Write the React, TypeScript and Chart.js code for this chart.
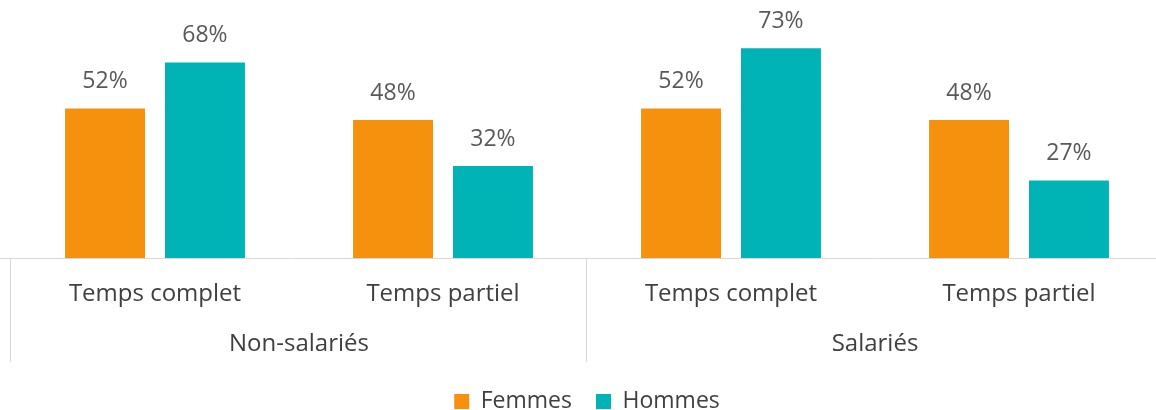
import React, { useEffect, useRef } from "react";
import { Chart, registerables } from "chart.js";

Chart.register(...registerables);

const categories = ["Temps complet", "Temps partiel", "Temps complet", "Temps partiel"];
const groups = ["Non-salariés", "Salariés"];
const femmes = [52, 48, 52, 48];
const hommes = [68, 32, 73, 27];
const seriesNames = ["Femmes", "Hommes"];

const ORANGE = "#F6910D";
const TEAL = "#00B3B4";
const FONT = "'Open Sans', 'Noto Sans', sans-serif";

const overlayPlugin = {
  id: "overlay",
  afterDatasetsDraw(chart: any) {
    const ctx = chart.ctx;
    ctx.save();
    ctx.font = `23px ${FONT}`;
    ctx.fillStyle = "#595959";
    ctx.textAlign = "center";
    ctx.textBaseline = "middle";
    chart.data.datasets.forEach((ds: any, di: number) => {
      const meta = chart.getDatasetMeta(di);
      meta.data.forEach((bar: any, i: number) => {
        ctx.fillText(ds.data[i] + "%", bar.x, bar.y - 27);
      });
    });
    ctx.restore();
  },
  afterDraw(chart: any) {
    const ctx = chart.ctx;
    const x = chart.scales.x;
    const y = chart.scales.y;
    const base = y.getPixelForValue(0);
    const catW = x.width / categories.length;
    ctx.save();
    ctx.strokeStyle = "#d9d9d9";
    ctx.lineWidth = 1;
    ctx.beginPath();
    ctx.moveTo(0, base + 0.5);
    ctx.lineTo(chart.width, base + 0.5);
    ctx.stroke();
    for (let g = 0; g <= groups.length; g++) {
      const px = Math.round(x.getPixelForValue(0) - catW / 2 + g * 2 * catW) - 0.5;
      ctx.beginPath();
      ctx.moveTo(px, base);
      ctx.lineTo(px, base + 104);
      ctx.stroke();
    }
    ctx.font = `24px ${FONT}`;
    ctx.fillStyle = "#404040";
    ctx.textAlign = "center";
    ctx.textBaseline = "middle";
    groups.forEach((g, gi) => {
      const cx = (x.getPixelForValue(gi * 2) + x.getPixelForValue(gi * 2 + 1)) / 2;
      ctx.fillText(g, cx, base + 86);
    });
    ctx.restore();
  },
};

export default function App() {
  const ref = useRef<HTMLCanvasElement>(null);
  useEffect(() => {
    document.body.style.margin = "0";
    const chart = new Chart(ref.current!, {
      type: "bar",
      data: {
        labels: categories,
        datasets: [
          { label: seriesNames[0], data: femmes, backgroundColor: ORANGE },
          { label: seriesNames[1], data: hommes, backgroundColor: TEAL },
        ],
      },
      options: {
        animation: false,
        responsive: false,
        layout: { padding: { left: 11, right: 7, top: 28, bottom: 0 } },
        datasets: { bar: { categoryPercentage: 0.694, barPercentage: 0.8 } } as any,
        scales: {
          x: {
            grid: { display: false, drawTicks: false },
            border: { display: false },
            ticks: { font: { family: FONT, size: 24 }, color: "#404040", padding: 22, maxRotation: 0 },
            afterFit: (s: any) => { s.height = 108; },
          },
          y: { display: false, min: 0, max: 80 },
        },
        plugins: {
          legend: {
            position: "bottom",
            labels: { boxWidth: 15, boxHeight: 15, padding: 24, font: { family: FONT, size: 23 }, color: "#404040" },
          },
          tooltip: { enabled: false },
        },
      },
      plugins: [overlayPlugin],
    });
    return () => chart.destroy();
  }, []);
  return (
    <div style={{ position: "fixed", left: 0, top: 0, width: 1156, height: 410, overflow: "hidden", background: "#fff" }}>
      <canvas ref={ref} width={1170} height={423} style={{ display: "block" }} />
    </div>
  );
}
